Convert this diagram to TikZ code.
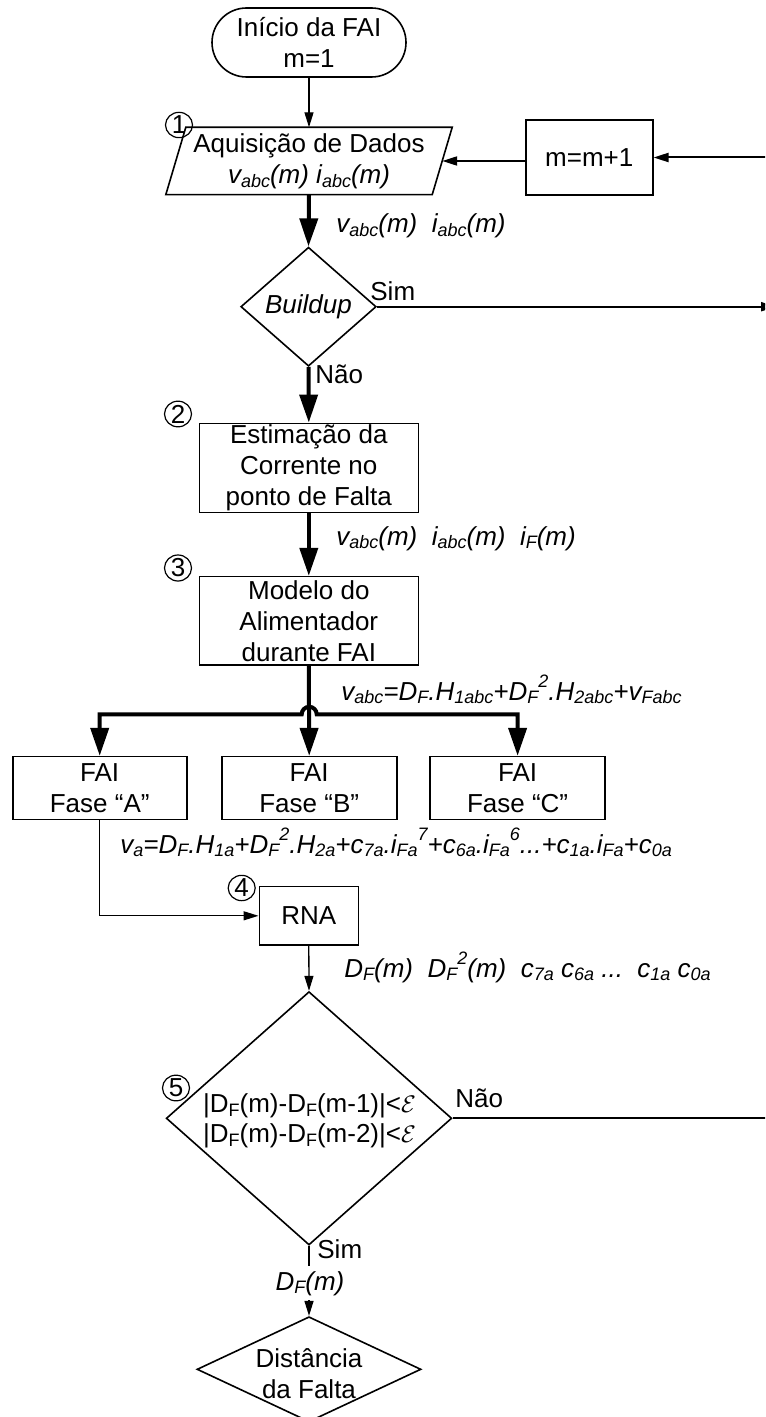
\documentclass[tikz,border=0pt]{standalone}
\usepackage{fontspec}
\setmainfont{Liberation Sans}
\usetikzlibrary{arrows.meta,shapes.geometric,calc}

% lowered and raised indices in the running text font
\newcommand{\sbs}[1]{\raisebox{-1.9pt}{\fontsize{9}{9}\selectfont #1}}
\newcommand{\sps}[1]{\raisebox{6.5pt}{\fontsize{9}{9}\selectfont #1}}

\begin{document}
\begin{tikzpicture}[x=0.5pt,y=-0.5pt,
  every node/.style={font=\fontsize{13}{15.5}\selectfont, inner sep=0pt},
  box/.style={draw, line width=0.8pt, rectangle, align=center},
  decision/.style={draw, line width=0.8pt, diamond, inner sep=0pt},
  num/.style={draw, line width=0.6pt, ellipse, minimum width=13.5pt, minimum height=11.5pt, inner sep=0pt},
  lbl/.style={anchor=base west, font=\fontsize{13}{15.5}\selectfont\itshape},
  plain/.style={anchor=base west},
  flowthin/.style={line width=0.65pt, -{Triangle[length=7.5pt,width=4.5pt]}},
  flowmid/.style={line width=1pt, -{Triangle[length=7.5pt,width=4.5pt]}},
  flowheavy/.style={line width=2pt, -{Triangle[length=14pt,width=9pt]}},
]
\useasboundingbox (0,0) rectangle (765,1417);
\clip (0,0) rectangle (765,1417);

% ---------- blocks ----------
\node[draw, line width=0.8pt, rounded corners=17.25pt, minimum width=97pt,
      minimum height=34.5pt, align=center] (start) at (309,42.5) {Início da FAI\\m=1};

\node[minimum width=132.8pt, minimum height=33.3pt, align=center] (aq) at (309,161)
  {Aquisição de Dados\\{\itshape v\sbs{abc}(m) i\sbs{abc}(m)}};
\draw[line width=0.8pt] ([xshift=5pt]aq.north west) -- ([xshift=5pt]aq.north east)
  -- ([xshift=-5pt]aq.south east) -- ([xshift=-5pt]aq.south west) -- cycle;

\node[box, minimum width=63.4pt, minimum height=37.5pt] (inc) at (589.3,157.5) {m=m+1};

\node[decision, minimum width=67.7pt, minimum height=59.5pt,
      label={[font=\fontsize{13}{15.5}\selectfont\itshape]center:Buildup}] (bu) at (308.5,306.7) {};

\node[box, minimum width=109.5pt, minimum height=44.65pt] (est) at (308.8,468)
  {Estimação da\\Corrente no\\ponto de Falta};
\node[box, minimum width=109.5pt, minimum height=44.15pt] (mod) at (308.8,620.8)
  {Modelo do\\Alimentador\\durante FAI};

\node[box, minimum width=87pt, minimum height=31.35pt] (fa) at (99.7,788) {FAI\\Fase “A”};
\node[box, minimum width=87.5pt, minimum height=31.35pt] (fb) at (309.2,788) {FAI\\Fase “B”};
\node[box, minimum width=87.5pt, minimum height=31.35pt] (fc) at (517.6,788) {FAI\\Fase “C”};

\node[box, minimum width=49.5pt, minimum height=29.15pt] (rna) at (308.8,915.8) {RNA};

\node[decision, minimum width=142.8pt, minimum height=126.7pt] (conv) at (309,1118.3) {};
\node[align=center, font=\fontsize{13}{15}\selectfont] (convtxt) at (309.5,1121)
  {|D\sbs{F}(m)-D\sbs{F}(m-1)|<$\mathcal{E}$\\|D\sbs{F}(m)-D\sbs{F}(m-2)|<$\mathcal{E}$};

\node[decision, minimum width=112pt, minimum height=52.6pt] (dist) at (309,1369.3) {};
\node[align=center] (disttxt) at (309,1374) {Distância\\da Falta};

% step numbers
\node[num] (n1) at (179,125) {1};
\node[num] (n2) at (178,414) {2};
\node[num] (n3) at (178,568) {3};
\node[num] (n4) at (241.7,888) {4};
\node[num] (n5) at (176,1088) {5};

% ---------- connectors ----------
\coordinate (simend) at (776,306.7);
\coordinate (loopx) at (790,1118.3);
\coordinate (bar) at (309.2,714.3);

\draw[flowthin] (start.south) -- (aq.north);
\draw[flowmid] (inc.west |- aq.east) -- (aq.east);
\draw[flowmid] (conv.east) -- (loopx) -- (inc.east -| loopx) -- (inc.east);
\draw[flowheavy] (aq.south) -- (bu.north);
\draw[flowmid] (bu.east) -- (simend);
\draw[flowheavy] (bu.south) -- (est.north);
\draw[flowheavy] (est.south) -- (mod.north);
\draw[flowheavy] (mod.south) -- (fb.north);
\draw[line width=2pt, {Triangle[length=14pt,width=9pt]}-{Triangle[length=14pt,width=9pt]}]
  (fa.north) -- (fa.north |- bar) -- ($(bar)+(-7.5,0)$)
  arc[start angle=180, end angle=0, radius=3.75pt] -- (fc.north |- bar) -- (fc.north);
\draw[flowthin] (fa.south) |- (rna.west);
\draw[flowthin] (rna.south) -- (conv.north);
\draw[flowthin] (conv.south) -- (dist.north);

% ---------- labels ----------
\node[lbl] (l1) at (336,233) {v\sbs{abc}(m)\ \ i\sbs{abc}(m)};
\node[plain] (sim1) at (370,300) {Sim};
\node[plain] (nao1) at (315,383) {Não};
\node[lbl] (l2) at (336,545) {v\sbs{abc}(m)\ \ i\sbs{abc}(m)\ \ i\sbs{F}(m)};
\node[lbl] (l3) at (341,700) {v\sbs{abc}=D\sbs{F}.H\sbs{1abc}+D\sbs{F}\sps{2}.H\sbs{2abc}+v\sbs{Fabc}};
\node[lbl] (l4) at (120,853) {v\sbs{a}=D\sbs{F}.H\sbs{1a}+D\sbs{F}\sps{2}.H\sbs{2a}+c\sbs{7a}.i\sbs{Fa}\sps{7}+c\sbs{6a}.i\sbs{Fa}\sps{6}...+c\sbs{1a}.i\sbs{Fa}+c\sbs{0a}};
\node[lbl] (l5) at (344,977) {D\sbs{F}(m)\ \ D\sbs{F}\sps{2}(m)\ \ c\sbs{7a} c\sbs{6a} ...\ \ c\sbs{1a} c\sbs{0a}};
\node[plain] (nao2) at (455,1107) {Não};
\node[plain] (sim2) at (317,1258) {Sim};
\node[lbl, anchor=base, fill=white, inner xsep=1pt, inner ysep=2.5pt] (dfm) at (310,1290) {D\sbs{F}(m)};
\end{tikzpicture}
\end{document}
